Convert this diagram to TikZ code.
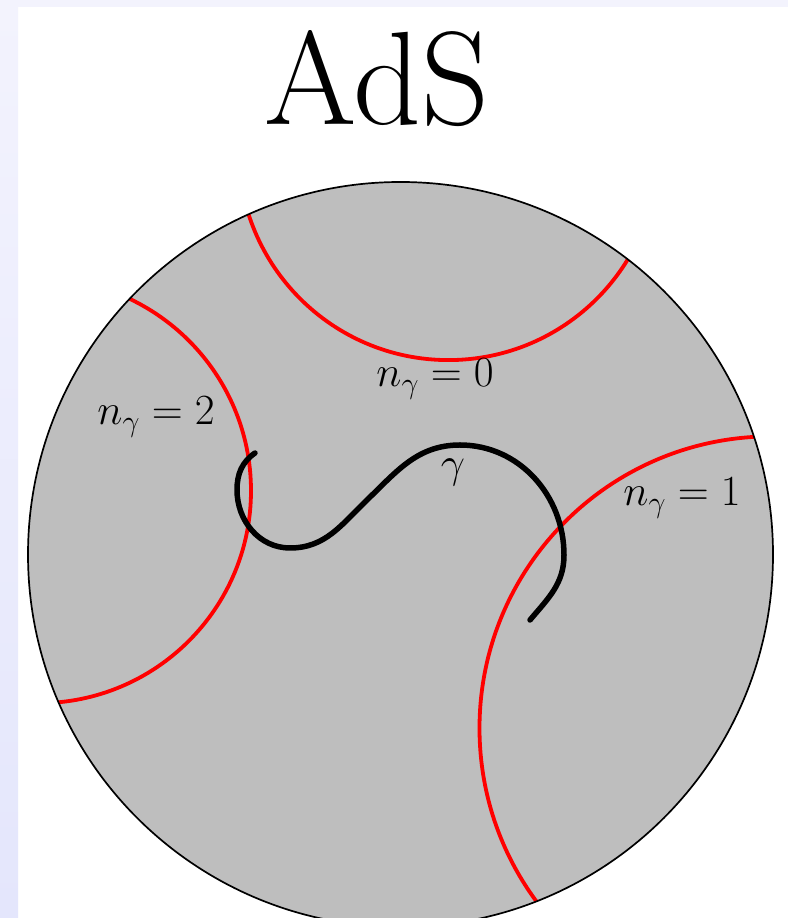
\RequirePackage{fix-cm}
\documentclass[tikz,border=0pt]{standalone}
\definecolor{diskgray}{RGB}{190,190,190}
\definecolor{bordtop}{RGB}{243,243,253}
\definecolor{bordbot}{RGB}{228,230,252}
\definecolor{geored}{RGB}{255,0,0}
\tikzset{
  geodesic/.style={draw=geored, line width=3.8pt},
  curvegamma/.style={draw=black, line width=5.5pt, line cap=round},
  rim/.style={draw=black, line width=1.7pt},
  lbl/.style={font=\fontsize{43}{45}\selectfont, anchor=base, inner sep=0pt},
}
\begin{document}
\begin{tikzpicture}[x=1pt,y=1pt]
  % page frame (y = 918 - image y)
  \useasboundingbox (0,0) rectangle (788,918);
  \clip (0,0) rectangle (788,918);
  \fill[white] (0,0) rectangle (788,918);
  \shade[top color=bordtop, bottom color=bordbot] (0,0) rectangle (18,918);
  \fill[bordtop] (18,911) rectangle (788,918);

  % title
  \node[font=\fontsize{133}{135}\selectfont, anchor=base, inner sep=0pt] (title) at (377,793) {AdS};

  % disk
  \coordinate (C) at (400.5,363.5);
  \fill[diskgray] (C) circle (372.5);

  % geodesics clipped to the disk
  \begin{scope}
    \clip (C) circle (372.5);
    \coordinate (g0) at (448.5,767.8);
    \coordinate (g2) at (38.6,427.2);
    \coordinate (g1) at (771.3,189.8);
    \draw[geodesic] (g0) circle (209.9);
    \draw[geodesic] (g2) circle (212.4);
    \draw[geodesic] (g1) circle (291.8);
  \end{scope}
  \draw[rim] (C) circle (372.5);

  % curve gamma
  \coordinate (p1) at (255,465);
  \coordinate (p2) at (237,428);
  \coordinate (p3) at (290,370);
  \coordinate (p4) at (367,418);
  \coordinate (p5) at (460,473);
  \coordinate (p6) at (564,363);
  \coordinate (p7) at (530,298);
  \draw[curvegamma] (p1) to[out=215,in=90] (p2) to[out=-90,in=180] (p3)
    to[out=0,in=224] (p4) to[out=44,in=180] (p5) to[out=0,in=90] (p6)
    to[out=-90,in=50] (p7);

  % labels
  \node[lbl] (n0) at (435,531) {$n_\gamma = 0$};
  \node[lbl] (n2) at (156,493) {$n_\gamma = 2$};
  \node[lbl] (n1) at (682,412) {$n_\gamma = 1$};
  \node[lbl] (gam) at (453,440) {$\gamma$};
\end{tikzpicture}
\end{document}
